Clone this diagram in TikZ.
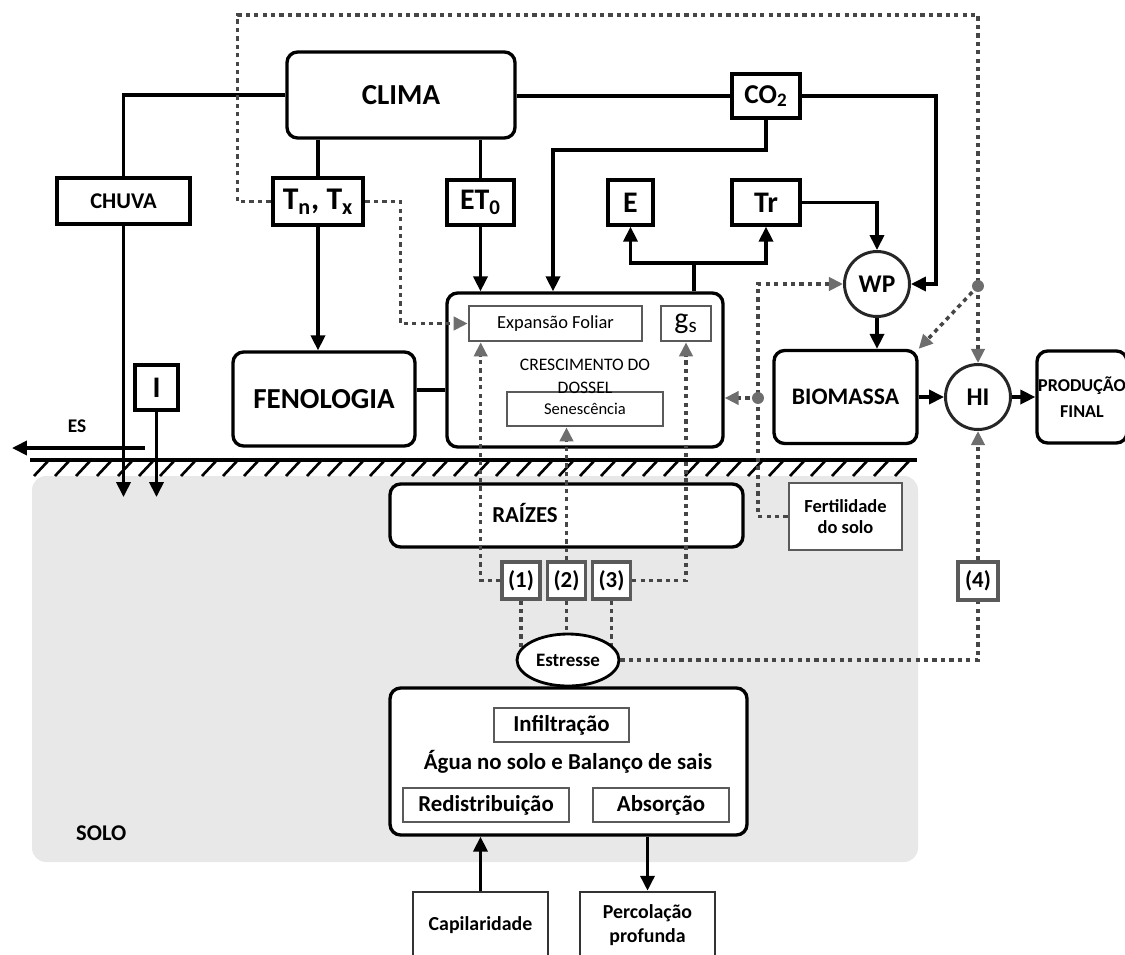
\documentclass[tikz,border=0pt]{standalone}
\usepackage{fontspec}
\setmainfont{Carlito}
\usepackage{tikz}
\usetikzlibrary{shapes.geometric,arrows.meta,calc}
\definecolor{soilgray}{RGB}{232,232,232}
\definecolor{dotgray}{RGB}{70,70,70}
\definecolor{tipgray}{RGB}{110,110,110}
\definecolor{framegray}{RGB}{90,90,90}
\newcommand{\fsz}[2]{\fontsize{#1}{#2}\selectfont}

\begin{document}
\begin{tikzpicture}[x=0.02cm, y=-0.02cm,
    box/.style={draw, line width=1.9pt, fill=white, align=center, inner sep=0pt},
    roundbox/.style={box, rounded corners=6pt},
    greybox/.style={draw=framegray, line width=1.5pt, fill=white, align=center, inner sep=0pt},
    ring/.style={circle, draw=black!85, line width=1.7pt, fill=white, inner sep=0pt, minimum size=1.3cm},
    link/.style={line width=1.9pt},
    flow/.style={link, -{Triangle[length=8.5pt,width=8pt]}},
    dotlink/.style={draw=dotgray, line width=2pt, dash pattern=on 2.4pt off 2.4pt},
    dotflow/.style={dotlink, -{Triangle[length=8pt,width=7.5pt,color=tipgray]}}]
    \path[use as bounding box] (0,0) rectangle (1125,954);
    \clip (0,0) rectangle (1125,954);

    % --- Solo ---
    \fill[soilgray, rounded corners=8pt] (32,476) rectangle (918,862);
    \draw[link] (30,460) -- (917,460);
    \foreach \hx in {34,55,...,895} {
        \draw[line width=1.5pt] (\hx,476) -- ++(15,-16);
    }
    \node[font=\bfseries\fsz{12.8}{15}, anchor=west] (solo) at (70,833) {SOLO};

    % --- Clima ---
    \node[roundbox, minimum width=4.56cm, minimum height=1.72cm, font=\bfseries\fsz{16.5}{19}] (clima) at (401,95) {CLIMA};
    \node[box, minimum width=2.66cm, minimum height=0.92cm, font=\bfseries\fsz{12.8}{15}] (chuva) at (123.5,201) {CHUVA};
    \node[box, line width=2.8pt, minimum width=1.8cm, minimum height=0.94cm, font=\bfseries\fsz{18}{21}] (tntx) at (318,201.5) {T\textsubscript{n}, T\textsubscript{x}};
    \node[box, minimum width=1.34cm, minimum height=0.9cm, font=\bfseries\fsz{17}{20}] (eto) at (480.5,202.5) {ET\textsubscript{0}};
    \node[box, minimum width=1.36cm, minimum height=0.88cm, font=\bfseries\fsz{15.5}{18}] (co2) at (766,96) {CO\textsubscript{2}};
    \node[box, minimum width=0.9cm, minimum height=0.9cm, font=\bfseries\fsz{17}{20}] (evap) at (630.5,202.5) {E};
    \node[box, minimum width=1.36cm, minimum height=0.9cm, font=\bfseries\fsz{17}{20}] (transp) at (766,202.5) {Tr};
    \node[ring, font=\bfseries\fsz{14.5}{17}] (wp) at (877,284) {WP};

    % --- Planta ---
    \node[roundbox, minimum width=3.64cm, minimum height=1.88cm, font=\bfseries\fsz{16.5}{19}] (fenol) at (324,399) {FENOLOGIA};
    \node[roundbox, minimum width=5.52cm, minimum height=3.08cm] (cresc) at (585,370) {};
    \node[greybox, minimum width=3.46cm, minimum height=0.7cm, font=\fsz{10.5}{12}] (expf) at (555.5,323.5) {Expansão Foliar};
    \node[greybox, minimum width=1.0cm, minimum height=0.7cm, font=\fsz{17}{20}] (gs) at (686,323.5) {g\textsubscript{s}};
    \node[greybox, minimum width=3.12cm, minimum height=0.68cm, font=\fsz{9.4}{11}] (senes) at (585,409) {Senescência};
    \node[align=center, font=\fsz{10}{13}] (cresctxt) at (585,376) {CRESCIMENTO DO\\DOSSEL};
    \node[roundbox, minimum width=2.86cm, minimum height=1.86cm, font=\bfseries\fsz{13.5}{16}] (biom) at (845.5,397) {BIOMASSA};
    \node[ring, font=\bfseries\fsz{14.5}{17}] (hi) at (978,397) {HI};
    \node[roundbox, minimum width=1.8cm, minimum height=1.84cm, font=\bfseries\fsz{10.3}{14.5}] (prod) at (1082,397) {PRODUÇÃO\\FINAL};
    \node[box, minimum width=0.86cm, minimum height=0.9cm, font=\bfseries\fsz{17}{20}] (ibox) at (156.5,387.5) {I};
    \node[font=\bfseries\fsz{11}{13}] (es) at (77,426) {ES};

    % --- Raizes e solo ---
    \node[roundbox, minimum width=7.06cm, minimum height=1.26cm] (raizes) at (566.5,515.5) {};
    \node[font=\bfseries\fsz{13}{15}] (raiztxt) at (525,513) {RAÍZES};
    \node[greybox, minimum width=2.26cm, minimum height=1.34cm, font=\bfseries\fsz{10.5}{12}] (fert) at (845.5,516.5) {Fertilidade\\do solo};
    \foreach \sn/\sx in {1/521,2/566.5,3/611.5} {
        \node[greybox, line width=1.8pt, minimum width=0.76cm, minimum height=0.74cm, font=\bfseries\fsz{13}{15}] (s\sn) at (\sx,580.5) {(\sn)};
    }
    \node[greybox, line width=1.8pt, minimum width=0.8cm, minimum height=0.76cm, font=\bfseries\fsz{13}{15}] (s4) at (978,581) {(4)};
    \node[roundbox, minimum width=7.14cm, minimum height=2.94cm] (agua) at (568.5,761.5) {};
    \node[greybox, minimum width=2.7cm, minimum height=0.68cm, font=\bfseries\fsz{13}{15}] (infil) at (561.5,725) {Infiltração};
    \node[font=\bfseries\fsz{13}{15}] (aguatxt) at (568,762) {Água no solo e Balanço de sais};
    \node[greybox, minimum width=3.32cm, minimum height=0.68cm, font=\bfseries\fsz{13}{15}] (redis) at (486,805) {Redistribuição};
    \node[greybox, minimum width=2.72cm, minimum height=0.68cm, font=\bfseries\fsz{13}{15}] (absor) at (661,805) {Absorção};
    \node[greybox, draw=black!80, minimum width=2.7cm, minimum height=1.32cm, font=\bfseries\fsz{11.3}{13}] (capil) at (480.5,925) {Capilaridade};
    \node[greybox, draw=black!80, minimum width=2.7cm, minimum height=1.32cm, font=\bfseries\fsz{11.3}{13.6}] (percol) at (647.5,925) {Percolação\\profunda};

    % --- Ligacoes continuas ---
    \draw[link] (clima.west) -| (chuva.north);
    \coordinate (chuvasolo) at (123.5,497);
    \draw[flow] (chuva.south) -- (chuvasolo);
    \coordinate (irrigsolo) at (156.5,497);
    \draw[flow] (ibox.south) -- (irrigsolo);
    \coordinate (esini) at (145,448);
    \coordinate (esfim) at (12,448);
    \draw[flow] (esini) -- (esfim);
    \draw[link] (clima.south -| tntx.north) -- (tntx.north);
    \draw[flow] (tntx.south) -- (tntx.south |- fenol.north);
    \draw[link] (clima.south -| eto.north) -- (eto.north);
    \draw[flow] (eto.south) -- (eto.south |- cresc.north);
    \draw[link] (clima.east |- co2.west) -- (co2.west);
    \coordinate (co2dobra) at (553,150);
    \draw[flow] (co2.south) |- (co2dobra) -- (co2dobra |- cresc.north);
    \coordinate (co2canto) at (936,96);
    \draw[flow] (co2.east) -- (co2canto) |- (wp.east);
    \coordinate (transpira) at (694,263);
    \draw[link] (transpira |- cresc.north) -- (transpira);
    \draw[flow] (transpira) -| (evap.south);
    \draw[flow] (transpira) -| (transp.south);
    \draw[flow] (transp.east) -| (wp.north);
    \draw[flow] (wp.south) -- (wp.south |- biom.north);
    \draw[flow] (biom.east) -- (hi.west);
    \draw[flow] (hi.east) -- (prod.west);
    \draw[link] (fenol.east |- 0,390) -- (cresc.west |- 0,390);
    \draw[flow] (capil.north) -- (capil.north |- agua.south);
    \draw[flow] (percol.north |- agua.south) -- (percol.north);

    % --- Ligacoes pontilhadas ---
    \draw[dotflow] (tntx.west) -- ++(-33,0) |- (hi.north |- 0,15) -- (hi.north);
    \coordinate (hidot) at (978,286);
    \draw[dotflow] (hidot) -- (biom.north east);
    \fill[tipgray] (hidot) circle (3.4pt);
    \draw[dotflow] (tntx.east) -- ++(35,0) |- (expf.west);
    \coordinate (fertcanto) at (758,284);
    \draw[dotflow] (fert.west) -| (fertcanto) -- (wp.west);
    \coordinate (fertdot) at (758,398);
    \draw[dotflow] (fertdot) -- (fertdot -| cresc.east);
    \fill[tipgray] (fertdot) circle (3.4pt);
    \draw[dotflow] (s1.west) -| ($(expf.south west)+(13,0)$);
    \draw[dotflow] (s2.north) -- (s2.north |- senes.south);
    \draw[dotflow] (s3.east) -| (gs.south);
    \coordinate (stresscentro) at (568,660);
    \foreach \sn in {1,2,3} {
        \draw[dotlink] (s\sn.south) -- (s\sn.south |- stresscentro);
    }
    \node[ellipse, draw, line width=1.6pt, fill=white, inner sep=0pt, minimum width=2.04cm, minimum height=1.04cm, font=\bfseries\fsz{10.8}{13}] (estresse) at (stresscentro) {Estresse};
    \draw[dotlink] (estresse.east) -| (s4.south);
    \draw[dotflow] (s4.north) -- (hi.south);
\end{tikzpicture}
\end{document}
